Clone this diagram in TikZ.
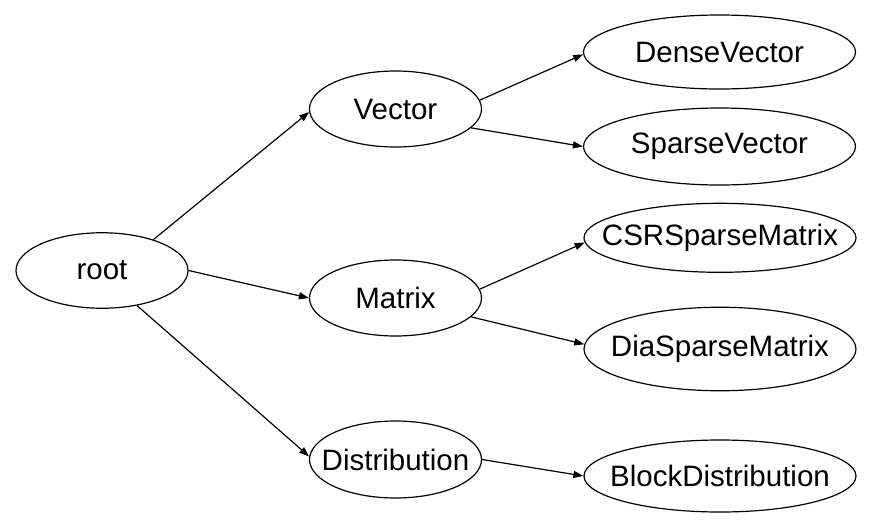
\documentclass[tikz,border=0pt]{standalone}
\usepackage{fontspec}
\setmainfont{Liberation Sans}
\usetikzlibrary{shapes.geometric,arrows.meta}
\newcommand{\zw}[1]{\makebox[0pt]{#1}}
\begin{document}
\begin{tikzpicture}[x=1pt,y=-1pt,
  every node/.style={font=\fontsize{29.5}{31}\selectfont},
  ell/.style={ellipse,draw,line width=1.2pt,inner sep=0pt,minimum width=#1},
  ell/.default=172pt,
  conn/.style={line width=1.2pt,-{Triangle[length=10pt,width=7pt]}}]
\useasboundingbox (0,0) rectangle (886,531);
\node[ell,minimum height=75.5pt] (root) at (102,270.5) {\zw{root}};
\node[ell,minimum height=76pt] (vector) at (395.5,109) {\zw{Vector}};
\node[ell,minimum height=76pt] (matrix) at (395.5,298) {\zw{Matrix}};
\node[ell,minimum height=77pt] (distribution) at (395.5,459.5) {\zw{Distribution}};
\node[ell=272pt,minimum height=74pt] (dense) at (719.5,52) {\zw{DenseVector}};
\node[ell=272pt,minimum height=77pt] (sparse) at (719.5,146.5) {\zw{SparseVector}};
\node[ell=272pt,minimum height=69pt] (csr) at (720,237.8) {\zw{CSRSparseMatrix}};
\node[ell=272pt,minimum height=83.5pt] (dia) at (720,349) {\zw{DiaSparseMatrix}};
\node[ell=272pt,minimum height=72pt] (block) at (720,476) {\zw{BlockDistribution}};
\draw[conn] (root.31) -- (vector.182);
\draw[conn] (root.0) -- (matrix.180);
\draw[conn] (root.315) -- (distribution.178);
\draw[conn] (vector.6) -- (dense.181);
\draw[conn] (vector.-14) -- (sparse.180);
\draw[conn] (matrix.6) -- (csr.182.5);
\draw[conn] (matrix.-14.5) -- (dia.178.5);
\draw[conn] (distribution.0) -- (block.180.5);
\end{tikzpicture}
\end{document}
